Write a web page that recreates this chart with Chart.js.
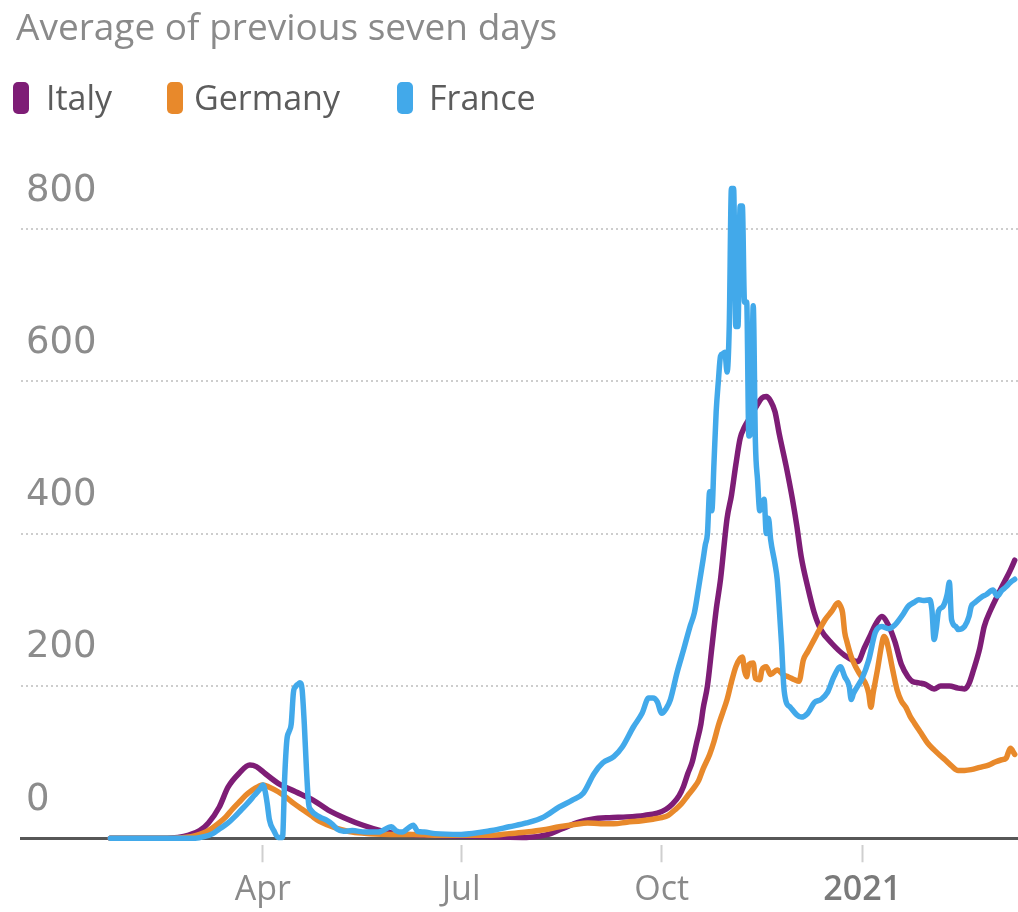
<!DOCTYPE html>
<html>
<head>
<meta charset="utf-8">
<script src="https://cdn.jsdelivr.net/npm/chart.js@4.4.1/dist/chart.umd.min.js"></script>
<style>
  html, body { margin: 0; padding: 0; background: #ffffff; }
  #page { position: relative; width: 1018px; height: 912px; overflow: hidden; font-family: "Open Sans", sans-serif; }
  #title { position: absolute; left: 16px; top: 0px; font-size: 37px; color: #8a8a8a; white-space: nowrap; }
  .item { position: absolute; top: 74px; font-size: 34px; color: #5c5c5c; white-space: nowrap; }
  .swatch { position: absolute; top: 82px; width: 16px; height: 32px; border-radius: 5px; }
  #wrap { position: absolute; left: 0; top: 0; width: 1018px; height: 924px; }
</style>
</head>
<body>
<div id="page">
  <div id="wrap"><canvas id="chart"></canvas></div>
  <div id="title">Average of previous seven days</div>
  <div id="legend"></div>
</div>
<script>
// Days are counted from 1 January 2020 (day 0); 2021 starts at day 366.
const tickDays = [91, 182, 274, 366];
const tickLabels = ["Apr", "Jul", "Oct", "2021"];
const yTicks = [0, 200, 400, 600, 800];

const seriesNames = ["Italy", "Germany", "France"];
const seriesColors = ["#7e1d76", "#e8892b", "#42a9ea"];

const italyDays = [21,45,52,57,62,66,71,75,80,85,88,92,98,106,114,121,129,137,145,152,167,182,196,212,222,228,236,242,250,258,266,272,276,279,282,284,286,288,290,292,293,295,297,299,301,304,306,308,310,312,314,317,320,322,324,326,328,331,334,336,338,341,344,347,352,358,364,367,370,372,375,378,381,384,387,389,392,395,399,402,406,410,413,415,417,420,422,425,428,431,434,436];
const italyValues = [0,0,1,4,10,20,41,67,85,96,94,85,72,61,50,37,26,17,10,6,4,3,2,1,5,12,21,25,27,28,30,33,38,45,56,68,85,100,125,150,170,200,250,300,340,420,450,490,525,540,550,565,578,580,574,560,530,490,445,410,370,330,296,274,256,240,232,250,268,280,291,280,258,228,212,206,204,202,196,200,200,197,196,203,220,250,278,300,318,335,352,365];

const germanyDays = [21,50,58,62,66,70,74,77,80,83,86,89,91,94,98,102,105,109,113,117,121,125,132,140,150,160,170,182,196,204,212,220,227,234,240,246,252,258,265,270,274,277,280,283,286,289,291,293,296,298,300,302,304,306,308,310,311,312,313,314,316,317,319,320,322,324,327,330,332,335,337,339,341,344,346,349,352,355,356,357,358,359,361,363,365,368,369,370,371,373,375,376,377,378,380,382,384,386,388,390,393,396,399,402,404,407,410,413,416,420,424,427,430,432,434,436];
const germanyValues = [0,0,2,5,10,18,28,38,47,56,63,68,70,67,61,53,46,38,30,22,17,13,8,6,5,5,4,4,4,6,8,11,15,18,20,19,19,21,23,25,27,30,37,45,56,67,76,91,110,127,148,165,182,205,225,236,238,220,212,228,230,210,208,221,225,215,221,214,212,208,206,234,245,261,272,287,298,309,305,296,270,258,238,225,215,200,190,172,190,221,255,265,261,250,221,195,180,172,160,151,138,125,116,108,103,95,89,89,90,93,96,100,103,105,118,110];

const franceDays = [21,60,64,68,71,75,78,81,84,87,90,91,92,93,94,96,98,100,101,102,103,104,105,106,107,108,109,110,111,112,113,117,120,123,125,128,132,138,144,150,152,155,158,160,162,165,170,182,196,204,212,220,227,233,238,243,247,252,256,261,265,268,270,272,274,276,278,281,284,287,289,291,293,294,295,296,297,298,299,300,301,302,303,304,305,306,307,308,309,310,311,312,313,314,315,316,317,318,319,320,321,322,323,324,326,327,328,329,330,331,333,336,338,341,344,347,350,353,356,358,360,361,362,364,366,369,372,375,378,381,383,385,387,390,392,394,397,398,399,400,401,403,405,406,407,409,410,413,415,416,418,421,423,426,428,430,432,434,436];
const franceValues = [0,0,2,6,12,20,28,37,46,56,66,70,62,45,24,10,1,1,80,129,140,150,191,199,202,204,195,150,90,45,37,28,24,18,12,9,10,8,8,15,10,8,14,17,9,8,6,5,10,15,20,28,41,50,59,85,99,107,120,146,164,184,184,179,164,170,182,217,247,278,296,330,366,385,400,455,430,493,560,600,633,636,638,612,672,853,853,672,672,830,830,704,704,528,533,699,520,470,430,440,445,400,420,392,360,340,300,255,200,180,172,162,159,164,178,182,191,212,225,212,200,182,190,200,210,234,270,278,275,280,287,295,304,310,313,312,313,300,261,275,298,304,320,336,287,278,274,278,291,304,310,317,320,326,318,325,330,336,340];

const seriesDays = [italyDays, germanyDays, franceDays];
const seriesValues = [italyValues, germanyValues, franceValues];

// Legend row above the plot
const legendX = [{sw: 13, tx: 46}, {sw: 167, tx: 194}, {sw: 397, tx: 429}];
const legend = document.getElementById("legend");
seriesNames.forEach((name, i) => {
  const sw = document.createElement("div");
  sw.className = "swatch";
  sw.style.left = legendX[i].sw + "px";
  sw.style.background = seriesColors[i];
  legend.appendChild(sw);
  const tx = document.createElement("div");
  tx.className = "item";
  tx.style.left = legendX[i].tx + "px";
  tx.textContent = name;
  legend.appendChild(tx);
});

const datasets = seriesNames.map((name, i) => ({
  label: name,
  data: seriesDays[i].map((d, j) => ({ x: d, y: seriesValues[i][j] })),
  borderColor: seriesColors[i],
  borderWidth: 5.5,
  pointRadius: 0,
  cubicInterpolationMode: "monotone",
  borderJoinStyle: "round",
  borderCapStyle: "round",
  fill: false,
  clip: false,
  order: 3 - i
}));

new Chart(document.getElementById("chart"), {
  type: "line",
  data: { datasets },
  options: {
    responsive: true,
    maintainAspectRatio: false,
    animation: false,
    events: [],
    layout: { padding: { left: 11, right: 0, top: 168, bottom: 5 } },
    plugins: { legend: { display: false }, tooltip: { enabled: false } },
    scales: {
      x: {
        type: "linear",
        min: -20,
        max: 437.5,
        afterBuildTicks: axis => { axis.ticks = tickDays.map(v => ({ value: v })); },
        border: { display: true, color: "#575757", width: 3 },
        grid: {
          drawOnChartArea: false,
          drawTicks: true,
          tickLength: 24,
          tickColor: "#cfcfcf",
          tickWidth: 2,
          tickBorderDash: [0, 5, 19]
        },
        ticks: {
          padding: 8,
          maxRotation: 0,
          autoSkip: false,
          color: ctx => (ctx.tick && ctx.tick.value === 366) ? "#7a7a7a" : "#8a8a8a",
          font: ctx => ({ family: "Open Sans", size: 34, weight: (ctx.tick && ctx.tick.value === 366) ? "600" : "normal" }),
          callback: v => tickLabels[tickDays.indexOf(v)]
        }
      },
      y: {
        min: 0,
        max: 880,
        afterBuildTicks: axis => { axis.ticks = yTicks.map(v => ({ value: v })); },
        border: { display: false, dash: [2, 3] },
        grid: {
          drawTicks: false,
          lineWidth: 2,
          color: ctx => (ctx.tick && ctx.tick.value === 0) ? "rgba(0,0,0,0)" : "#cdcdcd"
        },
        ticks: {
          mirror: true,
          padding: 5,
          labelOffset: -38,
          color: "#8c8c8c",
          font: { family: "DejaVu Sans", size: 37 },
          callback: v => String(v)
        }
      }
    }
  }
});
</script>
</body>
</html>
